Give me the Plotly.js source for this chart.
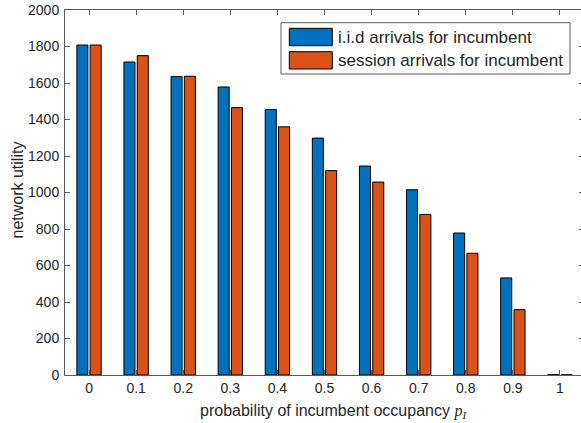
<!DOCTYPE html>
<html>
<head>
<meta charset="utf-8">
<script src="https://cdn.plot.ly/plotly-3.0.1.min.js"></script>
<style>
html,body{margin:0;padding:0;overflow:hidden;background:#fff;}
#chart{width:584px;height:423px;}
</style>
</head>
<body>
<div id="chart"></div>
<script>
// ---- data ----
const occupancy = [0, 0.1, 0.2, 0.3, 0.4, 0.5, 0.6, 0.7, 0.8, 0.9, 1];
const tickLabels = ["0", "0.1", "0.2", "0.3", "0.4", "0.5", "0.6", "0.7", "0.8", "0.9", "1"];
const iidUtility = [1808, 1715, 1635, 1578, 1455, 1298, 1145, 1015, 778, 532, 2];
const sessionUtility = [1808, 1750, 1637, 1465, 1360, 1120, 1057, 880, 667, 358, 1];
const seriesNames = ["i.i.d arrivals for incumbent", "session arrivals for incumbent"];
const yTicks = [0, 200, 400, 600, 800, 1000, 1200, 1400, 1600, 1800, 2000];

const blue = "#0072BD", orange = "#D95319";
const textCol = "#262626";

const traces = [
  {type: "bar", x: occupancy, y: iidUtility, name: seriesNames[0],
   marker: {color: blue, line: {color: "#000", width: 1}}},
  {type: "bar", x: occupancy, y: sessionUtility, name: seriesNames[1],
   marker: {color: orange, line: {color: "#000", width: 1}}}
];

// pixel -> paper helpers (plot area: x 65..584, y 10..375)
const px = v => (v - 65) / 519;
const py = v => (375 - v) / 365;

const layout = {
  width: 584, height: 423,
  margin: {l: 65, r: 0, t: 10, b: 48},
  paper_bgcolor: "#fff", plot_bgcolor: "#fff",
  font: {family: "Liberation Sans, Arial, sans-serif", color: textCol, size: 14},
  barmode: "group", bargap: 0.435, bargroupgap: 0.17,
  showlegend: false,
  xaxis: {
    range: [-0.051, 1.051], tickvals: occupancy, ticktext: tickLabels,
    showgrid: false, zeroline: false, showline: true, linecolor: "#5a5a5a", linewidth: 1,
    mirror: "ticks", ticks: "inside", ticklen: 5, tickcolor: "#5a5a5a",
    tickfont: {size: 14, color: textCol}
  },
  yaxis: {
    range: [0, 2000], tickvals: yTicks,
    showgrid: false, zeroline: false, showline: true, linecolor: "#5a5a5a", linewidth: 1,
    mirror: "ticks", ticks: "inside", ticklen: 5, tickcolor: "#5a5a5a",
    tickfont: {size: 14, color: textCol}, ticklabelstandoff: 2
  },
  shapes: [
    {type: "rect", xref: "paper", yref: "paper", x0: px(281), x1: px(570), y0: py(74), y1: py(22.7),
     line: {color: "#5a5a5a", width: 1}, fillcolor: "#fff", layer: "above"},
    {type: "rect", xref: "paper", yref: "paper", x0: px(289.3), x1: px(332.3), y0: py(45.7), y1: py(28.3),
     line: {color: "#000", width: 1}, fillcolor: blue, layer: "above"},
    {type: "rect", xref: "paper", yref: "paper", x0: px(289.3), x1: px(332.3), y0: py(69), y1: py(51.7),
     line: {color: "#000", width: 1}, fillcolor: orange, layer: "above"}
  ],
  annotations: [
    {xref: "paper", yref: "paper", x: px(336), y: py(37.5), xanchor: "left", yanchor: "middle",
     text: seriesNames[0], showarrow: false, font: {size: 17, color: textCol}},
    {xref: "paper", yref: "paper", x: px(336), y: py(60.5), xanchor: "left", yanchor: "middle",
     text: seriesNames[1], showarrow: false, font: {size: 17, color: textCol}},
    {xref: "paper", yref: "paper", x: px(333.5), y: py(411), xanchor: "center", yanchor: "middle",
     text: "probability of incumbent occupancy <span style=\"font-family:'Liberation Serif',serif\"><i>p</i><sub><i>I</i></sub></span>",
     showarrow: false, font: {size: 16, color: textCol}},
    {xref: "paper", yref: "paper", x: px(17), y: py(190.5), xanchor: "center", yanchor: "middle",
     text: "network utility", textangle: -90, showarrow: false, font: {size: 16, color: textCol}}
  ]
};

Plotly.newPlot("chart", traces, layout, {displayModeBar: false, staticPlot: true});
</script>
</body>
</html>
